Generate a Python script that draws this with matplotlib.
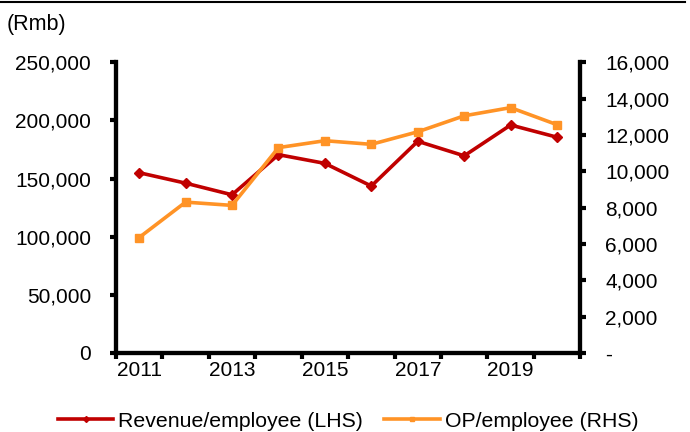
import matplotlib.pyplot as plt
import matplotlib.ticker as mticker
from matplotlib.lines import Line2D

plt.rcParams['font.family'] = ['Liberation Sans', 'DejaVu Sans']

years = [2011, 2012, 2013, 2014, 2015, 2016, 2017, 2018, 2019, 2020]
revenue = [155000, 146000, 136000, 170500, 163000, 143500, 182000, 169500, 196000, 185500]
op = [6350, 8300, 8120, 11300, 11680, 11480, 12170, 13050, 13500, 12560]

red = '#C00000'
orange = '#FF9326'

fig = plt.figure(figsize=(6.9, 4.32), dpi=100)
ax = fig.add_axes([0.168, 0.183, 0.673, 0.673])
ax2 = ax.twinx()

x = list(range(len(years)))
l1, = ax.plot(x, revenue, color=red, lw=2.6, marker='D', ms=5, label='Revenue/employee (LHS)')
l2, = ax2.plot(x, op, color=orange, lw=2.6, marker='s', ms=6, label='OP/employee (RHS)')

ax.set_xlim(-0.5, len(years) - 0.5)
ax.set_ylim(0, 250000)
ax2.set_ylim(0, 16000)

ax.set_yticks(range(0, 250001, 50000))
ax.yaxis.set_major_formatter(mticker.FuncFormatter(lambda v, p: f'{int(v):,}'))
ax2.set_yticks(range(0, 16001, 2000))
ax2.yaxis.set_major_formatter(mticker.FuncFormatter(lambda v, p: '-' if v == 0 else f'{int(v):,}'))

ax.set_xticks(x[::2])
ax.set_xticklabels([str(y) for y in years[::2]])
ax.set_xticks([i - 0.5 for i in range(len(years) + 1)], minor=True)
ax.tick_params(axis='x', which='major', length=0, labelsize=15, pad=6)
ax.tick_params(axis='x', which='minor', length=4, width=3, direction='out')
ax.tick_params(axis='y', length=4, width=3, labelsize=15, pad=14)
ax2.tick_params(axis='y', length=4, width=3, labelsize=15, pad=14)

for a in (ax, ax2):
    a.spines['top'].set_visible(False)
    for s in ('left', 'right', 'bottom'):
        a.spines[s].set_linewidth(3)

fig.text(0.009, 0.943, '(Rmb)', fontsize=15.5, va='center', ha='left')
fig.add_artist(Line2D([0, 0.993], [0.996, 0.996], color='black', lw=1.5))

fig.legend(handles=[l1, l2], loc='center left', bbox_to_anchor=(0.084, 0.025), ncol=2,
           frameon=False, fontsize=15.3, handlelength=2.6, columnspacing=1.0,
           handletextpad=0.24, markerscale=0.6, borderpad=0, borderaxespad=0)

fig.savefig('out.png', dpi=100)
